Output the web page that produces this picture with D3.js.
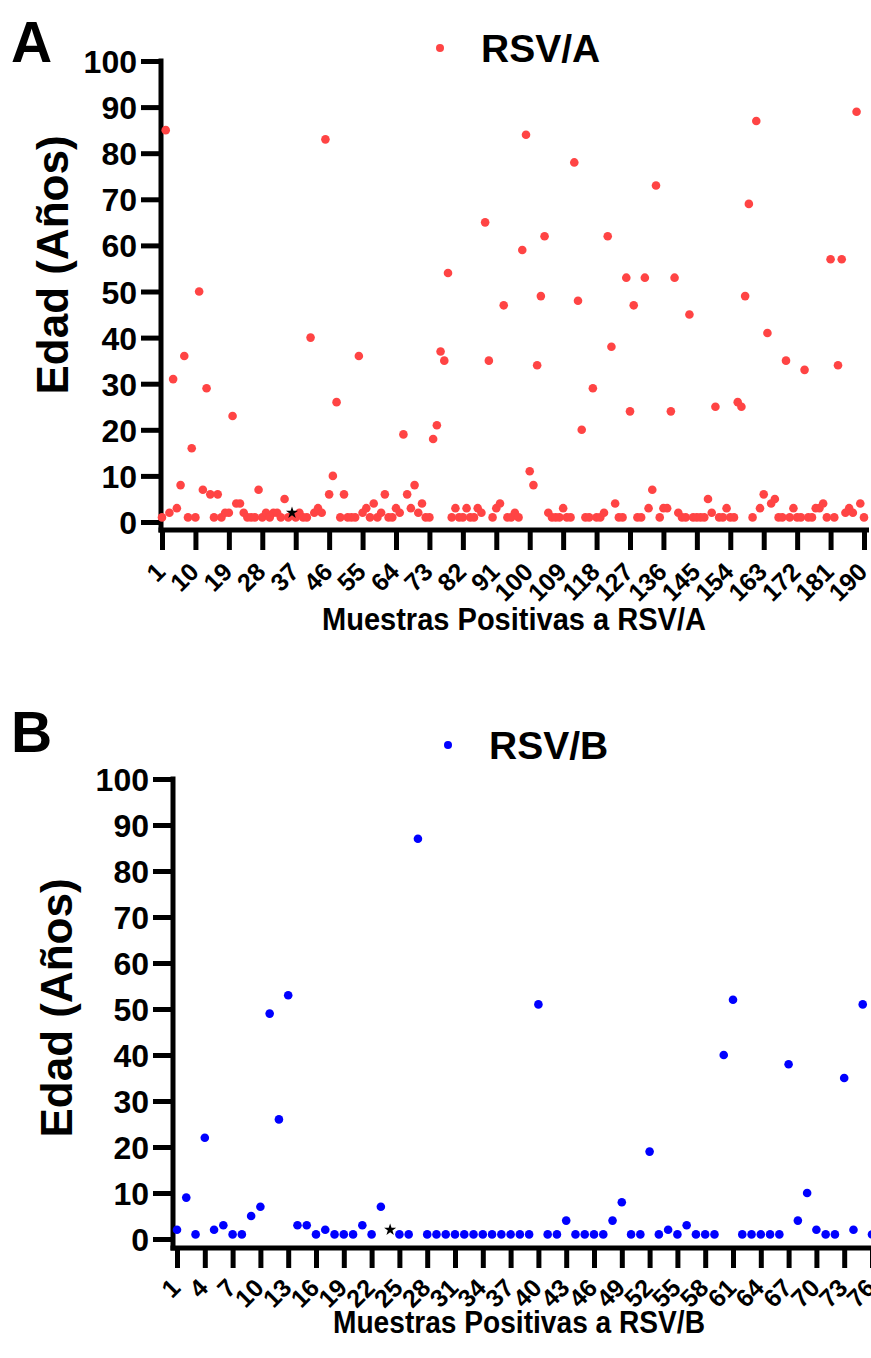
<!DOCTYPE html>
<html>
<head>
<meta charset="utf-8">
<script src="https://d3js.org/d3.v7.min.js"></script>
<style>
  body { margin: 0; background: #fff; }
  svg text { font-family: "Liberation Sans", Arial, sans-serif; font-weight: bold; fill: #000; }
</style>
</head>
<body>
<svg id="chart" width="871" height="1358"></svg>
<script>
// ages (years) of each positive sample
const rsvA = [
  1, 85, 2, 31, 3, 8, 36, 1, 16, 1,
  50, 7, 29, 6, 1, 6, 1, 2, 2, 23,
  4, 4, 2, 1, 1, 1, 7, 1, 2, 1,
  2, 2, 1, 5, 1, 2, 1, 2, 1, 1,
  40, 2, 3, 2, 83, 6, 10, 26, 1, 6,
  1, 1, 1, 36, 2, 3, 1, 4, 1, 2,
  6, 1, 1, 3, 2, 19, 6, 3, 8, 2,
  4, 1, 1, 18, 21, 37, 35, 54, 1, 3,
  1, 1, 3, 1, 1, 3, 2, 65, 35, 1,
  3, 4, 47, 1, 1, 2, 1, 59, 84, 11,
  8, 34, 49, 62, 2, 1, 1, 1, 3, 1,
  1, 78, 48, 20, 1, 1, 29, 1, 1, 2,
  62, 38, 4, 1, 1, 53, 24, 47, 1, 1,
  53, 3, 7, 73, 1, 3, 3, 24, 53, 2,
  1, 1, 45, 1, 1, 1, 1, 5, 2, 25,
  1, 1, 3, 1, 1, 26, 25, 49, 69, 1,
  87, 3, 6, 41, 4, 5, 1, 1, 35, 1,
  3, 1, 1, 33, 1, 1, 3, 3, 4, 1,
  57, 1, 34, 57, 2, 3, 2, 89, 4, 1
];
const rsvB = [
  2, 9, 1, 22, 2, 3, 1, 1, 5, 7,
  49, 26, 53, 3, 3, 1, 2, 1, 1, 1,
  3, 1, 7, 2, 1, 1, 87, 1, 1, 1,
  1, 1, 1, 1, 1, 1, 1, 1, 1, 51,
  1, 1, 4, 1, 1, 1, 1, 4, 8, 1,
  1, 19, 1, 2, 1, 3, 1, 1, 1, 40,
  52, 1, 1, 1, 1, 1, 38, 4, 10, 2,
  1, 1, 35, 2, 51, 1
];
// samples drawn as a black star instead of a dot
const starA = [36];
const starB = [24];

const yTicks = [0, 10, 20, 30, 40, 50, 60, 70, 80, 90, 100];
const xTicksA = [1, 10, 19, 28, 37, 46, 55, 64, 73, 82, 91, 100, 109, 118, 127, 136, 145, 154, 163, 172, 181, 190];
const xTicksB = [1, 4, 7, 10, 13, 16, 19, 22, 25, 28, 31, 34, 37, 40, 43, 46, 49, 52, 55, 58, 61, 64, 67, 70, 73, 76];

const svg = d3.select("#chart");

function drawPanel(opt) {
    const g = svg.append("g");
    const x = d3.scaleLinear().domain([1, opt.values.length]).range([opt.x0, opt.x1]);
    const y = d3.scaleLinear().domain([0, 100]).range([opt.yBottom, opt.yTop]);

    // y axis: ticks from d3, spine drawn by hand so it meets the x axis
    const ya = g.append("g")
        .attr("transform", `translate(${opt.axisX},0)`)
        .call(d3.axisLeft(y).tickValues(yTicks).tickSize(20).tickPadding(4));
    ya.select(".domain").remove();
    ya.selectAll("line").attr("stroke", "#000").attr("stroke-width", 5);
    ya.selectAll("text").style("font-size", "32px").attr("dy", "0.36em");

    g.append("line")
        .attr("x1", opt.axisX).attr("x2", opt.axisX)
        .attr("y1", y(100) - 2.5).attr("y2", opt.axisY + 2.5)
        .attr("stroke", "#000").attr("stroke-width", 5);

    // x axis
    const xa = g.append("g")
        .attr("transform", `translate(0,${opt.axisY})`)
        .call(d3.axisBottom(x).tickValues(opt.xTicks).tickSize(20).tickFormat(d3.format("d")));
    xa.select(".domain").remove();
    xa.selectAll("line").attr("stroke", "#000").attr("stroke-width", 5);
    xa.selectAll("text")
        .style("font-size", "25px")
        .attr("text-anchor", "end")
        .attr("y", 0).attr("dy", "0.36em")
        .attr("transform", `translate(-2,${opt.labelDrop}) rotate(-45)`);

    g.append("line")
        .attr("x1", opt.axisX - 2.5).attr("x2", opt.xEnd)
        .attr("y1", opt.axisY).attr("y2", opt.axisY)
        .attr("stroke", "#000").attr("stroke-width", 5);

    // points
    const pts = opt.values.map((v, i) => ({ n: i + 1, v: v }));
    g.append("g").selectAll("circle")
        .data(pts.filter(d => !opt.stars.includes(d.n)))
        .join("circle")
        .attr("cx", d => x(d.n))
        .attr("cy", d => y(d.v))
        .attr("r", 4.3)
        .attr("fill", opt.color);
    g.append("g").selectAll("path")
        .data(pts.filter(d => opt.stars.includes(d.n)))
        .join("path")
        .attr("transform", d => `translate(${x(d.n)},${y(d.v)})`)
        .attr("d", d3.symbol(d3.symbolStar, 45))
        .attr("fill", "#000");

    // legend
    g.append("circle")
        .attr("cx", opt.legendX).attr("cy", opt.legendY)
        .attr("r", 4).attr("fill", opt.color);
    g.append("text")
        .attr("x", opt.legendX + 41).attr("y", opt.legendY + 14)
        .style("font-size", "39px")
        .text(opt.legend);

    // panel letter
    g.append("text")
        .attr("x", 11).attr("y", opt.letterY)
        .style("font-size", "57px")
        .text(opt.letter);

    // axis titles
    g.append("text")
        .attr("transform", `translate(${opt.yTitleX},${opt.yTitleY}) rotate(-90)`)
        .attr("text-anchor", "middle")
        .style("font-size", "44px")
        .text("Edad (Años)");
    g.append("text")
        .attr("x", opt.xTitleX).attr("y", opt.xTitleY)
        .attr("text-anchor", "middle")
        .attr("textLength", opt.xTitleW)
        .attr("lengthAdjust", "spacingAndGlyphs")
        .style("font-size", "31px")
        .text(opt.xTitle);
}

drawPanel({
    values: rsvA, stars: starA, xTicks: xTicksA, color: "#ff4444",
    x0: 162, x1: 864, xEnd: 869, axisX: 161, axisY: 530,
    yTop: 61, yBottom: 522, labelDrop: 37,
    legend: "RSV/A", legendX: 440, legendY: 48,
    letter: "A", letterY: 62,
    yTitleX: 68, yTitleY: 265,
    xTitle: "Muestras Positivas a RSV/A", xTitleX: 514, xTitleY: 630, xTitleW: 384
});

drawPanel({
    values: rsvB, stars: starB, xTicks: xTicksB, color: "#0000ff",
    x0: 177, x1: 872, xEnd: 872, axisX: 173, axisY: 1248,
    yTop: 779, yBottom: 1239, labelDrop: 35,
    legend: "RSV/B", legendX: 448, legendY: 745,
    letter: "B", letterY: 752,
    yTitleX: 72, yTitleY: 1008,
    xTitle: "Muestras Positivas a RSV/B", xTitleX: 519, xTitleY: 1333, xTitleW: 372
});
</script>
</body>
</html>
